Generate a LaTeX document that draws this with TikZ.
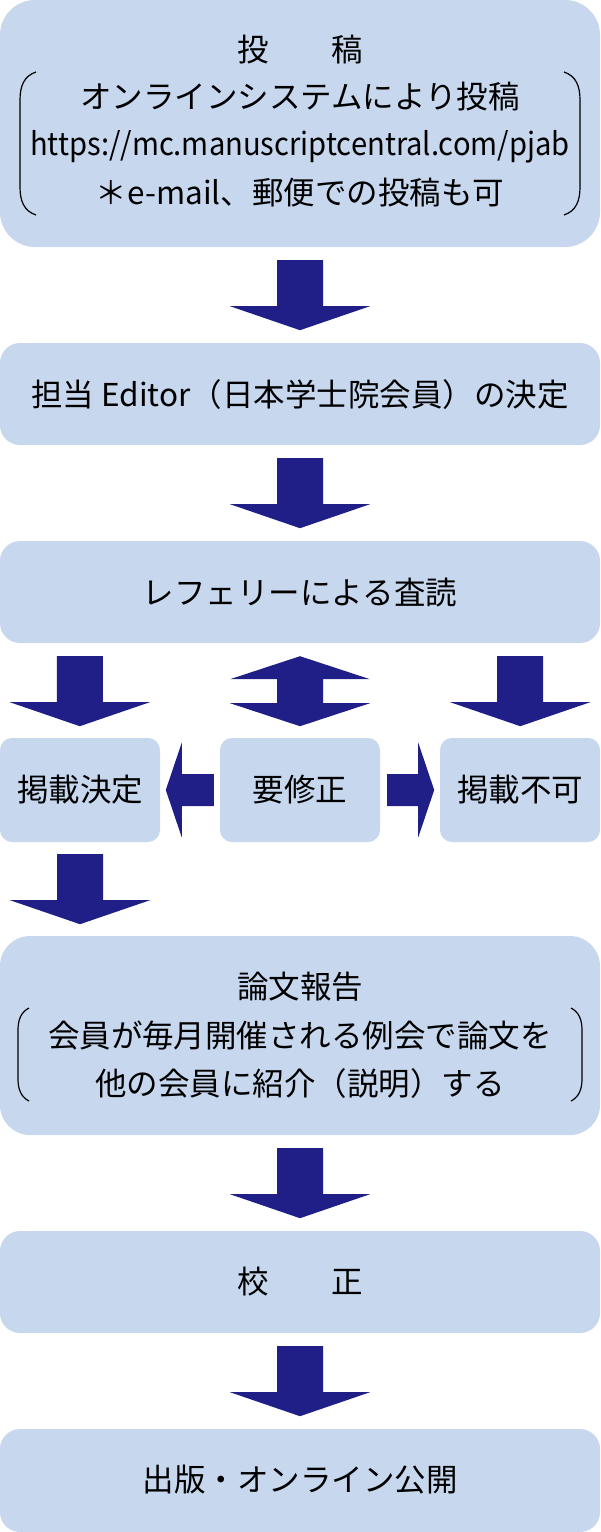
\documentclass[tikz,border=0pt]{standalone}
\usepackage{fontspec}
\usepackage{graphicx}
\setmainfont{Noto Sans CJK JP}
\usetikzlibrary{calc}
\definecolor{boxc}{RGB}{198,215,238}
\definecolor{arrc}{RGB}{31,31,135}
\tikzset{
  box/.style={fill=boxc, draw=none, inner sep=0pt},
  txt/.style={font=\fontsize{31.5}{38}\selectfont, inner sep=0pt, anchor=base, text=black},
  brk/.style={draw=black, line width=1.2pt},
  darrow/.pic={\fill[arrc] (-23,0) -- (23,0) -- (23,46) -- (70,46) -- (0,70) -- (-70,46) -- (-23,46) -- cycle;},
  udarrow/.pic={\fill[arrc] (0,0) -- (70,23) -- (23,23) -- (23,47) -- (70,47) -- (0,70) -- (-70,47) -- (-23,47) -- (-23,23) -- (-70,23) -- cycle;},
  larrow/.pic={\fill[arrc] (0,0) -- (16,-47.5) -- (16,-16) -- (48,-16) -- (48,16) -- (16,16) -- (16,47.5) -- cycle;},
  rarrow/.pic={\fill[arrc] (0,0) -- (-16,-47.5) -- (-16,-16) -- (-47,-16) -- (-47,16) -- (-16,16) -- (-16,47.5) -- cycle;}
}
\begin{document}
\begin{tikzpicture}[x=1pt,y=-1pt]
\useasboundingbox (0,0) rectangle (600,1532);
% boxes
\node[box, rounded corners=35pt, minimum width=600pt, minimum height=247pt] (b1) at (300,123.5) {};
\node[box, rounded corners=20pt, minimum width=600pt, minimum height=102pt] (b2) at (300,394) {};
\node[box, rounded corners=20pt, minimum width=600pt, minimum height=102pt] (b3) at (300,592) {};
\node[box, rounded corners=12pt, minimum width=160pt, minimum height=104pt] (acc) at (80,790) {};
\node[box, rounded corners=12pt, minimum width=160pt, minimum height=104pt] (rev) at (300,790) {};
\node[box, rounded corners=12pt, minimum width=160pt, minimum height=104pt] (rej) at (520,790) {};
\node[box, rounded corners=30pt, minimum width=600pt, minimum height=199pt] (b4) at (300,1035.5) {};
\node[box, rounded corners=20pt, minimum width=600pt, minimum height=102pt] (b5) at (300,1282) {};
\node[box, rounded corners=20pt, minimum width=600pt, minimum height=103pt] (b6) at (300,1480.5) {};
% texts box1
\node[txt] (t1a) at (300,61.5) {投　　稿};
\node[txt] (t1b) at (300,108.5) {オンラインシステムにより投稿};
\node[txt] (t1c) at (300,155) {\scalebox{0.926}[1]{https://mc.manuscriptcentral.com/pjab}};
\node[txt] (t1d) at (300,204.5) {＊e-mail、郵便での投稿も可};
\draw[brk] (36,72) .. controls (24,76) and (20,86) .. (20,100) -- (20,187) .. controls (20,201) and (24,211) .. (36,215);
\draw[brk] (564,72) .. controls (576,76) and (580,86) .. (580,100) -- (580,187) .. controls (580,201) and (576,211) .. (564,215);
% other texts
\node[txt] (t2) at (300,406.5) {担当 Editor（日本学士院会員）の決定};
\node[txt] (t3) at (300,604.5) {レフェリーによる査読};
\node[txt] (tacc) at (80,801.5) {掲載決定};
\node[txt] (trev) at (300,801.5) {要修正};
\node[txt] (trej) at (520,801.5) {掲載不可};
\node[txt] (t4a) at (300,998.5) {論文報告};
\node[txt] (t4b) at (300,1047.5) {会員が毎月開催される例会で論文を};
\node[txt] (t4c) at (300,1095.5) {他の会員に紹介（説明）する};
\draw[brk] (29,1008) .. controls (21,1012) and (18,1020) .. (18,1030) -- (18,1079) .. controls (18,1089) and (21,1097) .. (29,1101);
\draw[brk] (571,1008) .. controls (579,1012) and (582,1020) .. (582,1030) -- (582,1079) .. controls (582,1089) and (579,1097) .. (571,1101);
\node[txt] (t5) at (300,1293.5) {校　　正};
\node[txt] (t6) at (300,1491.5) {出版・オンライン公開};
% arrows
\pic at ($(b1.south)+(0,13)$) {darrow};
\pic at ($(b2.south)+(0,13)$) {darrow};
\pic at ($(b3.south west)+(80,13)$) {darrow};
\pic at ($(b3.south)+(0,13)$) {udarrow};
\pic at ($(b3.south east)+(-80,13)$) {darrow};
\pic at ($(rev.west)+(-54,0)$) {larrow};
\pic at ($(rev.east)+(54,0)$) {rarrow};
\pic at ($(acc.south)+(0,12)$) {darrow};
\pic at ($(b4.south)+(0,13)$) {darrow};
\pic at ($(b5.south)+(0,13)$) {darrow};
\end{tikzpicture}
\end{document}
